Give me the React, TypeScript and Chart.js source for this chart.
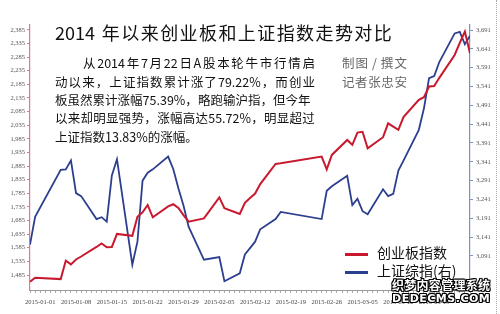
import React, { useEffect, useRef } from "react";
import { Chart, registerables } from "chart.js";

Chart.register(...registerables);

// Trading dates shown in the chart
const dates: string[] = [
  "2014-12-30", "2014-12-31", "2015-01-05", "2015-01-06", "2015-01-07", "2015-01-08", "2015-01-09",
  "2015-01-12", "2015-01-13", "2015-01-14", "2015-01-15", "2015-01-16",
  "2015-01-19", "2015-01-20", "2015-01-21", "2015-01-22", "2015-01-23",
  "2015-01-26", "2015-01-27", "2015-01-28", "2015-01-29", "2015-01-30",
  "2015-02-02", "2015-02-05", "2015-02-06",
  "2015-02-09", "2015-02-10", "2015-02-11", "2015-02-12", "2015-02-13",
  "2015-02-16", "2015-02-17", "2015-02-25", "2015-02-26", "2015-02-27",
  "2015-03-02", "2015-03-03", "2015-03-04", "2015-03-05", "2015-03-06",
  "2015-03-09", "2015-03-10", "2015-03-11", "2015-03-12", "2015-03-13",
  "2015-03-16", "2015-03-17", "2015-03-18", "2015-03-19", "2015-03-20",
  "2015-03-23", "2015-03-24", "2015-03-25", "2015-03-26",
];

// 创业板指数 (left axis)
const chinext: number[] = [
  1460, 1475, 1470, 1538, 1524, 1542, 1553,
  1588, 1601, 1587, 1588, 1636,
  1629, 1699, 1715, 1742, 1697,
  1737, 1745, 1731, 1705, 1681,
  1693, 1770, 1730,
  1709, 1750, 1768, 1784, 1819,
  1893, 1895, 1920, 1873, 1926,
  1981, 1963, 2008, 2011, 1950,
  1991, 2042, 2030, 2018, 2065,
  2128, 2138, 2177, 2179, 2209,
  2293, 2337, 2379, 2299,
];

// 上证综指 (right axis)
const sse: number[] = [
  3121, 3195, 3320, 3321, 3345, 3258, 3250,
  3189, 3194, 3182, 3305, 3348,
  3068, 3129, 3291, 3312, 3321,
  3355, 3322, 3271, 3225, 3169,
  3081, 3088, 3024,
  3045, 3095, 3112, 3129, 3162,
  3189, 3208, 3189, 3264, 3276,
  3304, 3226, 3243, 3210, 3202,
  3268, 3250, 3256, 3318, 3344,
  3426, 3483, 3563, 3569, 3606,
  3682, 3686, 3653, 3676,
];

const leftTicks: number[] = [1485, 1535, 1585, 1635, 1685, 1735, 1785, 1835, 1885, 1935, 1985, 2035, 2085, 2135, 2185, 2235, 2285, 2335, 2385];
const rightTicks: number[] = [3091, 3141, 3191, 3241, 3291, 3341, 3391, 3441, 3491, 3541, 3591, 3641, 3691];
const xLabelDates: string[] = ["2015-01-01", "2015-01-08", "2015-01-15", "2015-01-22", "2015-01-29", "2015-02-05", "2015-02-12", "2015-02-19", "2015-02-26", "2015-03-05", "2015-03-12", "2015-03-19"];

const title = "2014 年以来创业板和上证指数走势对比";
const bodyLines: string[] = [
  "从2014年7月22日A股本轮牛市行情启",
  "动以来，上证指数累计涨了79.22%，而创业",
  "板虽然累计涨幅75.39%，略跑输沪指，但今年",
  "以来却明显强势，涨幅高达55.72%，明显超过",
  "上证指数13.83%的涨幅。",
];
const credits: string[] = ["制图 / 撰文", "记者张忠安"];
const legendLabels: string[] = ["创业板指数", "上证综指(右)"];

const BASE = Date.UTC(2015, 0, 1);
const dayOf = (d: string) => {
  const [y, m, dd] = d.split("-").map(Number);
  return Math.round((Date.UTC(y, m - 1, dd) - BASE) / 86400000);
};
const dateOfDay = (n: number) => {
  const t = new Date(BASE + n * 86400000);
  const mm = String(t.getUTCMonth() + 1).padStart(2, "0");
  const dd = String(t.getUTCDate()).padStart(2, "0");
  return `${t.getUTCFullYear()}-${mm}-${dd}`;
};

const RED = "#c8192f";
const BLUE = "#2c3f8e";
const cjk = "'Noto Sans CJK SC', 'Noto Sans', sans-serif";

function Justified(props: { text: string; style: React.CSSProperties }) {
  const tokens = props.text.match(/[A-Za-z0-9.%]+|\s*\/\s*|./gu) || [];
  return (
    <div style={{ display: "flex", justifyContent: "space-between", whiteSpace: "pre", ...props.style }}>
      {tokens.map((t, i) => (
        <span key={i}>{t}</span>
      ))}
    </div>
  );
}

export default function App() {
  const ref = useRef<HTMLCanvasElement | null>(null);

  useEffect(() => {
    if (!ref.current) return;
    const labelDays = xLabelDates.map(dayOf);
    const tickFont = { family: "'Liberation Serif', serif", size: 6.5 };
    const chart = new Chart(ref.current, {
      type: "line",
      data: {
        datasets: [
          {
            label: legendLabels[0],
            data: dates.map((d, i) => ({ x: dayOf(d), y: chinext[i] })),
            borderColor: RED,
            borderWidth: 2,
            pointRadius: 0,
            tension: 0,
            yAxisID: "y",
          },
          {
            label: legendLabels[1],
            data: dates.map((d, i) => ({ x: dayOf(d), y: sse[i] })),
            borderColor: BLUE,
            borderWidth: 1.8,
            pointRadius: 0,
            tension: 0,
            yAxisID: "y1",
          },
        ],
      },
      options: {
        animation: false,
        responsive: false,
        layout: { padding: { top: 25, left: 0, right: 0, bottom: 0 } },
        plugins: { legend: { display: false }, tooltip: { enabled: false } },
        scales: {
          x: {
            type: "linear",
            min: -2,
            max: 84,
            afterBuildTicks: (s: any) => {
              const t = [];
              for (let v = -2; v <= 84; v++) t.push({ value: v });
              s.ticks = t;
            },
            afterFit: (s: any) => { s.height = 24; },
            ticks: {
              autoSkip: false,
              maxRotation: 0,
              minRotation: 0,
              padding: 5,
              color: "#444",
              font: tickFont,
              callback: (v: any) => (labelDays.includes(Number(v)) ? dateOfDay(Number(v)) : ""),
            },
            grid: { drawOnChartArea: false, tickLength: 3, color: "#aaa" },
            border: { color: "#999" },
          },
          y: {
            position: "left",
            min: 1430,
            max: 2403,
            afterBuildTicks: (s: any) => { s.ticks = leftTicks.map((v) => ({ value: v })); },
            afterFit: (s: any) => { s.width = 30; },
            ticks: {
              padding: 2,
              color: "#555",
              font: tickFont,
              callback: (v: any) => Number(v).toLocaleString("en-US"),
            },
            grid: { drawOnChartArea: false, tickLength: 3, color: "#e0788a" },
            border: { color: "#e0788a", width: 1.2 },
          },
          y1: {
            position: "right",
            min: 3000.7,
            max: 3704.3,
            afterBuildTicks: (s: any) => { s.ticks = rightTicks.map((v) => ({ value: v })); },
            afterFit: (s: any) => { s.width = 30; },
            ticks: {
              padding: 3,
              color: "#555",
              font: tickFont,
              callback: (v: any) => Number(v).toLocaleString("en-US"),
            },
            grid: { drawOnChartArea: false, tickLength: 3, color: "#7f8fbf" },
            border: { color: "#7f8fbf", width: 1.2 },
          },
        },
      },
    } as any);
    return () => chart.destroy();
  }, []);

  const bodyPos = [
    { left: 83, top: 54, width: 232 },
    { left: 55, top: 73, width: 260 },
    { left: 55, top: 91, width: 254 },
    { left: 55, top: 109, width: 260 },
  ];
  const bodyStyle: React.CSSProperties = {
    position: "absolute", fontFamily: cjk, fontSize: 12.5, lineHeight: "18px", color: "#111",
  };

  return (
    <div style={{ position: "relative", width: 500, height: 314, background: "#fff", overflow: "hidden" }}>
      <style>{`body{margin:0}`}</style>
      <canvas ref={ref} width={500} height={314} style={{ position: "absolute", left: 0, top: 0 }} />
      <div style={{ position: "absolute", left: 496, top: 0, height: 314, borderLeft: "1px dotted #aaa" }} />
      <Justified
        text={title}
        style={{ position: "absolute", left: 55, top: 21, width: 337, fontFamily: cjk, fontSize: 18, lineHeight: "22px", color: "#111" }}
      />
      {bodyLines.slice(0, 4).map((t, i) => (
        <Justified key={i} text={t} style={{ ...bodyStyle, left: bodyPos[i].left, top: bodyPos[i].top, width: bodyPos[i].width }} />
      ))}
      <div style={{ ...bodyStyle, left: 55, top: 128, whiteSpace: "nowrap" }}>{bodyLines[4]}</div>
      {credits.map((t, i) => (
        <Justified
          key={"c" + i}
          text={t}
          style={{ position: "absolute", left: 342, top: 54 + i * 19, width: 65, fontFamily: cjk, fontSize: 12.5, lineHeight: "18px", color: "#666" }}
        />
      ))}
      {legendLabels.map((t, i) => (
        <React.Fragment key={"l" + i}>
          <div style={{ position: "absolute", left: 345, top: 253 + i * 18, width: 23, height: 2.5, background: i === 0 ? RED : BLUE }} />
          <div
            style={{
              position: "absolute", left: 377, top: 243 + i * 18, fontFamily: cjk, fontSize: 14,
              lineHeight: "18px", color: "#111", whiteSpace: "nowrap",
            }}
          >
            {t}
          </div>
        </React.Fragment>
      ))}
      <Justified
        text="织梦内容管理系统"
        style={{
          position: "absolute", left: 392, top: 278, width: 98, fontFamily: cjk, fontSize: 12, fontWeight: 700,
          lineHeight: "14px", color: "#fff",
          textShadow: "1px 0 #000, -1px 0 #000, 0 1px #000, 0 -1px #000, 1px 1px #000, -1px -1px #000, 1px -1px #000, -1px 1px #000",
        }}
      />
      <div
        style={{
          position: "absolute", left: 392, top: 292, width: 98, fontFamily: "'DejaVu Sans', sans-serif", fontSize: 11, fontWeight: 700,
          lineHeight: "14px", color: "#fff", letterSpacing: 0.5, whiteSpace: "nowrap",
          textShadow: "1px 0 #000, -1px 0 #000, 0 1px #000, 0 -1px #000, 1px 1px #000, -1px -1px #000, 1px -1px #000, -1px 1px #000",
        }}
      >
        DEDECMS.COM
      </div>
    </div>
  );
}
